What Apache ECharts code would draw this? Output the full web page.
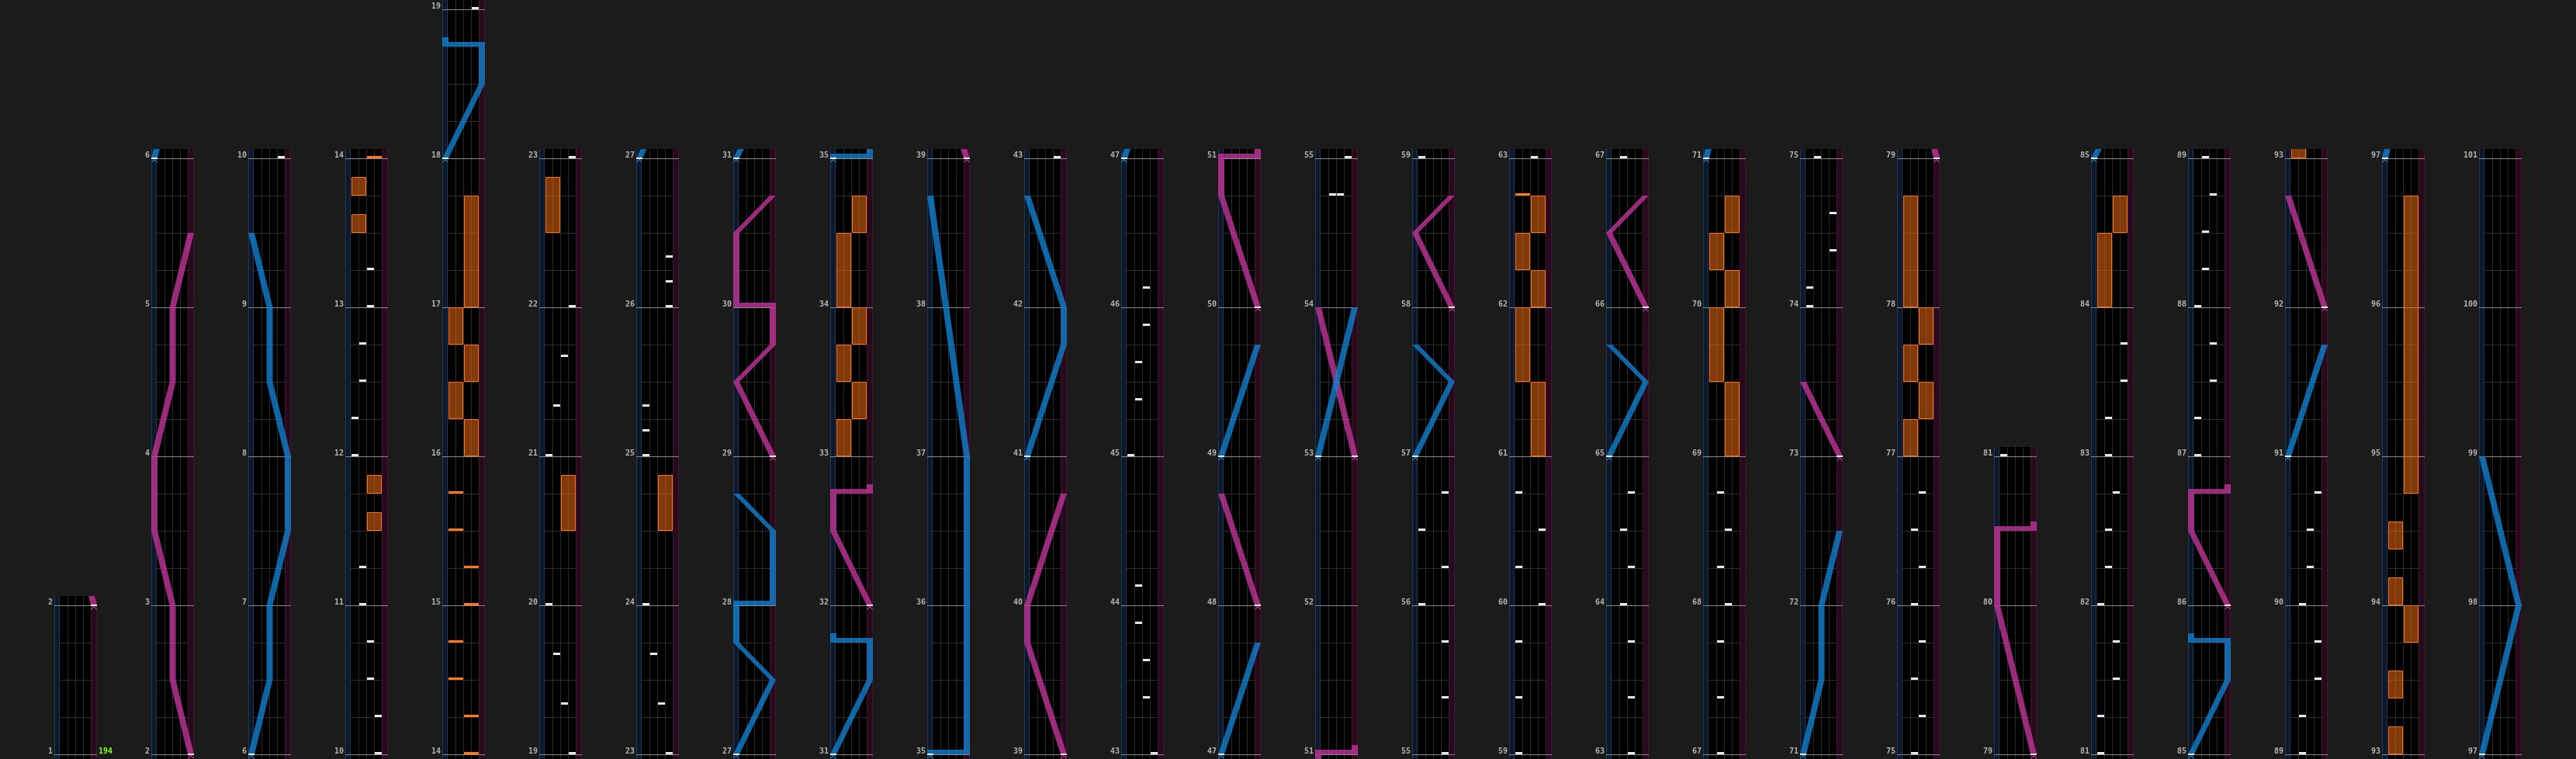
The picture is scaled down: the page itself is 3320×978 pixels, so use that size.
<!DOCTYPE html>
<html><head><meta charset="utf-8">
<script src="https://cdn.jsdelivr.net/npm/echarts@6/dist/echarts.min.js"></script>
<style>html,body{margin:0;padding:0;background:#1b1b1b;}#c{width:3320px;height:978px;}</style>
</head><body><div id="c"></div>
<script>
// ---------------- DATA (measures; BT lane 0-3; FX side 0=L,1=R; laser pos 0..1) ----------------
const columnRanges = [[1,2],[2,6],[6,10],[10,14],[14,19],[19,23],[23,27],[27,31],[31,35],[35,39],[39,43],[43,47],[47,51],[51,55],[55,59],[59,63],[63,67],[67,71],[71,75],[75,79],[79,81],[81,85],[85,89],[89,93],[93,97],[97,101]];

const btChips = [
 [10,3],[10.25,3],[10.5,2],[10.75,2],[11,1],[11.25,1],[12,0],[12.25,0],[12.5,1],[12.75,1],[13,2],[13.25,2],
 [19,3],[19.333,2],[19.667,1],[20,0],[21,0],[21.333,1],[21.667,2],[22,3],[23,3],
 [23.333,2],[23.667,1],[24,0],[25,0],[25.167,0],[25.333,0],[26,3],[26.167,3],[26.333,3],
 [43,3],[43.375,2],[43.625,2],[43.875,1],[44.125,1],[45,0],[45.375,1],[45.625,1],[45.875,2],[46.125,2],
 [54.75,1],[54.75,2],[55,3],[55.375,3],[55.75,3],[56,0],[56.25,3],[56.5,0],[56.75,3],[59,0],
 [59.375,0],[59.75,0],[60,3],[60.25,0],[60.5,3],[60.75,0],[63,2],
 [63.375,2],[63.75,2],[64,1],[64.25,2],[64.5,1],[64.75,2],[67,1],
 [67.375,1],[67.75,1],[68,2],[68.25,1],[68.5,2],[68.75,1],
 [74,0],[74.125,0],[74.375,3],[74.625,3],[75,1],
 [75.25,2],[75.5,1],[75.75,2],[76,1],[76.25,2],[76.5,1],[76.75,2],
 [81,0],[81.25,0],[81.5,2],[81.75,2],[82,0],[82.25,1],[82.5,1],[82.75,2],[83,1],[83.25,1],[83.5,3],[83.75,3],
 [87,0],[87.25,0],[87.5,2],[87.75,2],[88,0],[88.25,1],[88.5,1],[88.75,2],[89,1],
 [89.25,1],[89.5,3],[89.75,3],[90,1],[90.25,2],[90.5,2],[90.75,3]
];

const fxChips = [[14,1],[14.25,1],[14.5,0],[14.75,0],[15,1],[15.25,1],[15.5,0],[15.75,0],[62.75,0]];

const fxHolds = [
 [11.5,11.625,1],[11.75,11.875,1],[13.5,13.625,0],[13.75,13.875,0],
 [16,16.25,1],[16.25,16.5,0],[16.5,16.75,1],[16.75,17,0],[17,17.75,1],
 [20.5,20.875,1],[22.5,22.875,0],[24.5,24.875,1],
 [33,33.25,0],[33.25,33.5,1],[33.5,33.75,0],[33.75,34,1],[34,34.5,0],[34.5,34.75,1],
 [61,61.5,1],[61.5,62,0],[62,62.25,1],[62.25,62.5,0],[62.5,62.75,1],
 [69,69.5,1],[69.5,70,0],[70,70.25,1],[70.25,70.5,0],[70.5,70.75,1],
 [77,77.25,0],[77.25,77.5,1],[77.5,77.75,0],[77.75,78,1],[78,78.75,0],
 [84,84.5,0],[84.5,84.75,1],
 [93,93.1875,0],[93.375,93.5625,0],[93.75,94,1],[94,94.1875,0],[94.375,94.5625,0],[94.75,96.75,1]
];

const leftLasers = [
 [[6,0],[6.5,0.5],[7,0.5],[7.5,1],[8,1],[8.5,0.5],[9,0.5],[9.5,0]],
 [[18,0],[18.5,1],[18.75,1],[18.75,0],[18.8125,0]],
 [[27,0],[27.5,1],[27.75,0],[28,0],[28,1],[28.5,1],[28.75,0]],
 [[31,0],[31.5,1],[31.75,1],[31.75,0],[31.8125,0]],
 [[35,0],[35,1],[37,1],[38.75,0]],
 [[41,0],[41.75,1],[42,1],[42.75,0]],
 [[47,0],[47.75,1]],
 [[49,0],[49.75,1]],
 [[53,0],[54,1]],
 [[57,0],[57.5,1],[57.75,0]],
 [[65,0],[65.5,1],[65.75,0]],
 [[71,0],[71.5,0.5],[72,0.5],[72.5,1]],
 [[85,0],[85.5,1],[85.75,1],[85.75,0],[85.8125,0]],
 [[91,0],[91.75,1]],
 [[97,0],[98,1],[99,0]]
];

const rightLasers = [
 [[2,1],[2.5,0.5],[3,0.5],[3.5,0],[4,0],[4.5,0.5],[5,0.5],[5.5,1]],
 [[29,1],[29.5,0],[29.75,1],[30,1],[30,0],[30.5,0],[30.75,1]],
 [[32,1],[32.5,0],[32.75,0],[32.75,1],[32.8125,1]],
 [[39,1],[39.75,0],[40,0],[40.75,1]],
 [[48,1],[48.75,0]],
 [[50,1],[50.75,0],[51,0],[51,1],[51.0625,1]],
 [[53,1],[54,0]],
 [[58,1],[58.5,0],[58.75,1]],
 [[66,1],[66.5,0],[66.75,1]],
 [[73,1],[73.5,0]],
 [[79,1],[80,0],[80.5,0],[80.5,1],[80.5625,1]],
 [[86,1],[86.5,0],[86.75,0],[86.75,1],[86.8125,1]],
 [[92,1],[92.75,0]]
];

const bpmChanges = [[1, 194]];

// ---------------- LAYOUT / STYLE ----------------
const COL_X0 = 70, COL_STEP = 125, COL_W = 55, PX_PER_MEASURE = 192, PAD_TOP = 12, PAD_BOT = 6;
const X_MIN = -0.7, X_MAX = 4.8;
const laserX = p => -0.3 + p * 4.7;
const LH = 4;
const FONT = '"DejaVu Sans Mono", monospace';

function rect(x, y, w, h, fill, extra) { return Object.assign({type:'rect', shape:{x, y, width:w, height:h}, style:{fill}}, extra||{}); }
function hline(x0, x1, y, c) { return {type:'line', shape:{x1:x0, y1:y, x2:x1, y2:y}, style:{stroke:c, lineWidth:1}}; }
function vline(x, y0, y1, c) { return {type:'line', shape:{x1:x, y1:y0, x2:x, y2:y1}, style:{stroke:c, lineWidth:1}}; }

function renderBackground(params, api) {
  const s = api.value(0), e = api.value(1);
  const c = (x, t) => api.coord([x, t]);
  const top = c(0, e + PAD_TOP / PX_PER_MEASURE)[1], bot = c(0, s - PAD_BOT / PX_PER_MEASURE)[1];
  const xL = Math.round(c(X_MIN, s)[0]), xB0 = Math.round(c(0, s)[0]), xB4 = Math.round(c(4, s)[0]), xR = Math.round(c(X_MAX, s)[0]);
  const ch = [];
  ch.push(rect(xL, top, xR - xL, bot - top, '#000'));
  ch.push(rect(xL, top, xB0 - xL, bot - top, '#0d182a'));
  ch.push(rect(xB4, top, xR - xB4, bot - top, '#280a1d'));
  ch.push(vline(xL + 0.5, top, bot, '#1d3957'));
  ch.push(vline(xB0 - 0.5, top, bot, '#1d3957'));
  ch.push(vline(xB4 + 0.5, top, bot, '#461534'));
  ch.push(vline(xR - 0.5, top, bot, '#461534'));
  for (let k = 1; k < 4; k++) { const x = Math.round(c(k, s)[0]); ch.push(vline(x + 0.5, top, bot, '#2a2a2a')); }
  for (let q = 1; q < (e - s) * 4; q++) {
    if (q % 4 === 0) continue;
    const y = Math.round(c(0, s + q / 4)[1]) + 0.5;
    ch.push(hline(xB0, xB4, y, '#2d2d2d'));
  }
  for (let m = s; m <= e; m++) {
    const y = Math.round(c(0, m)[1]) + 0.5;
    ch.push(hline(xL, xR, y, '#8a8a8a'));
  }
  return {type:'group', children: ch};
}

function renderHold(params, api) {
  const t0 = api.value(0), t1 = api.value(1), side = api.value(2);
  const a = api.coord([side * 2, t1]), b = api.coord([side * 2 + 2, t0]);
  const x0 = Math.round(a[0]) + 1, x1 = Math.round(b[0]);
  const y0 = Math.round(a[1]), y1 = Math.round(b[1]);
  return {type:'rect', shape:{x:x0 + 0.5, y:y0 + 0.5, width:x1 - x0 - 1, height:y1 - y0 - 1},
    style:{fill:'rgba(235,108,20,0.55)', stroke:'#ff7214', lineWidth:1}};
}

function renderBt(params, api) {
  const t = api.value(0), lane = api.value(1);
  const a = api.coord([lane, t]), b = api.coord([lane + 1, t]);
  const y = Math.round(a[1]);
  const x0 = Math.round(a[0]) + 1, x1 = Math.round(b[0]);
  return rect(x0, y - 3, x1 - x0, 3, '#e8e9ef');
}

function renderFxChip(params, api) {
  const t = api.value(0), side = api.value(1);
  const a = api.coord([side * 2, t]), b = api.coord([side * 2 + 2, t]);
  const y = Math.round(a[1]);
  const x0 = Math.round(a[0]) + 1, x1 = Math.round(b[0]);
  return rect(x0, y - 3, x1 - x0, 3, '#ff7a16');
}

function makeLaserRender(list, fill, chevron) {
  return function (params, api) {
    const pts = list[api.value(0)];
    const ch = [];
    let run = [];
    const flush = () => {
      if (run.length >= 2) {
        const L = run.map(p => [p[0] - LH, p[1]]);
        const R = run.map(p => [p[0] + LH, p[1]]).reverse();
        ch.push({type:'polygon', shape:{points: L.concat(R)}, style:{fill}});
      }
    };
    for (let j = 0; j < pts.length; j++) {
      const p = api.coord([laserX(pts[j][1]), pts[j][0]]);
      if (j > 0 && pts[j][0] === pts[j - 1][0]) {
        const q = run[run.length - 1];
        flush();
        const x0 = Math.min(q[0], p[0]) - LH, x1 = Math.max(q[0], p[0]) + LH;
        ch.push(rect(x0, p[1] - 6, x1 - x0, 6, fill));
        run = [[p[0], p[1] - 6]];
      } else run.push(p);
    }
    flush();
    const s0 = api.coord([laserX(pts[0][1]), pts[0][0]]);
    const sy = Math.round(s0[1]);
    ch.push(rect(s0[0] - LH, sy - 1, LH * 2, 2, '#f0f0f0'));
    ch.push({type:'polyline', shape:{points:[[s0[0] - 3.5, sy + 5], [s0[0], sy + 1.5], [s0[0] + 3.5, sy + 5]]},
      style:{stroke:chevron, lineWidth:1.2, fill:null}});
    return {type:'group', children: ch};
  };
}

function renderBpm(params, api) {
  const t = api.value(0);
  const p = api.coord([X_MAX, t]);
  return {type:'text', x: p[0] + 2, y: Math.round(p[1]) + 1,
    style:{text: String(api.value(1)), fill:'#7cff12', font:'bold 10px ' + FONT,
      align:'left', verticalAlign:'bottom', textAlign:'left', textVerticalAlign:'bottom'}};
}

// ---------------- BUILD ----------------
const grids = [], xAxes = [], yAxes = [], series = [];
const overlap = (t0, t1, s, e) => t1 >= s - 0.05 && t0 <= e + 0.1;

columnRanges.forEach(([s, e], i) => {
  grids.push({left: COL_X0 + COL_STEP * i, width: COL_W, bottom: 0,
    height: (e - s) * PX_PER_MEASURE + PAD_TOP + PAD_BOT});
  xAxes.push({gridIndex: i, type: 'value', min: X_MIN, max: X_MAX, show: false});
  const labels = [];
  for (let m = s; m <= e; m++) labels.push(m);
  yAxes.push({gridIndex: i, type: 'value',
    min: s - PAD_BOT / PX_PER_MEASURE, max: e + PAD_TOP / PX_PER_MEASURE,
    axisLine: {show: false}, axisTick: {show: false}, splitLine: {show: false},
    axisLabel: {customValues: labels, color: '#b3b3b3', fontSize: 10, fontWeight: 'bold',
      fontFamily: FONT, margin: 2, verticalAlign: 'bottom', lineHeight: 8}});
  const base = {type: 'custom', xAxisIndex: i, yAxisIndex: i, clip: true, silent: true, animation: false};
  series.push(Object.assign({}, base, {z: 1, data: [[s, e]], renderItem: renderBackground}));
  series.push(Object.assign({}, base, {z: 2, data: fxHolds.filter(h => overlap(h[0], h[1], s, e)), renderItem: renderHold}));
  series.push(Object.assign({}, base, {z: 3, data: btChips.filter(c => overlap(c[0], c[0], s, e)), renderItem: renderBt}));
  series.push(Object.assign({}, base, {z: 3, data: fxChips.filter(c => overlap(c[0], c[0], s, e)), renderItem: renderFxChip}));
  const rIdx = rightLasers.map((l, k) => [k, l[0][0], l[l.length - 1][0]]).filter(d => overlap(d[1], d[2], s, e)).map(d => [d[0]]);
  const lIdx = leftLasers.map((l, k) => [k, l[0][0], l[l.length - 1][0]]).filter(d => overlap(d[1], d[2], s, e)).map(d => [d[0]]);
  series.push(Object.assign({}, base, {z: 4, data: rIdx, encode: {x: 0, y: 0},
    renderItem: makeLaserRender(rightLasers, 'rgba(192,54,152,0.8)', '#b13a8e')}));
  series.push(Object.assign({}, base, {z: 5, data: lIdx, encode: {x: 0, y: 0},
    renderItem: makeLaserRender(leftLasers, 'rgba(18,128,206,0.8)', '#2f78b0')}));
  const bp = bpmChanges.filter(b => b[0] >= s && b[0] < e);
  if (bp.length) series.push(Object.assign({}, base, {clip: false, z: 6, data: bp, renderItem: renderBpm}));
});

const chart = echarts.init(document.getElementById('c'), null, {renderer: 'canvas', width: 3320, height: 978});
chart.setOption({
  backgroundColor: '#1b1b1b',
  animation: false,
  grid: grids, xAxis: xAxes, yAxis: yAxes, series: series
});
</script></body></html>
